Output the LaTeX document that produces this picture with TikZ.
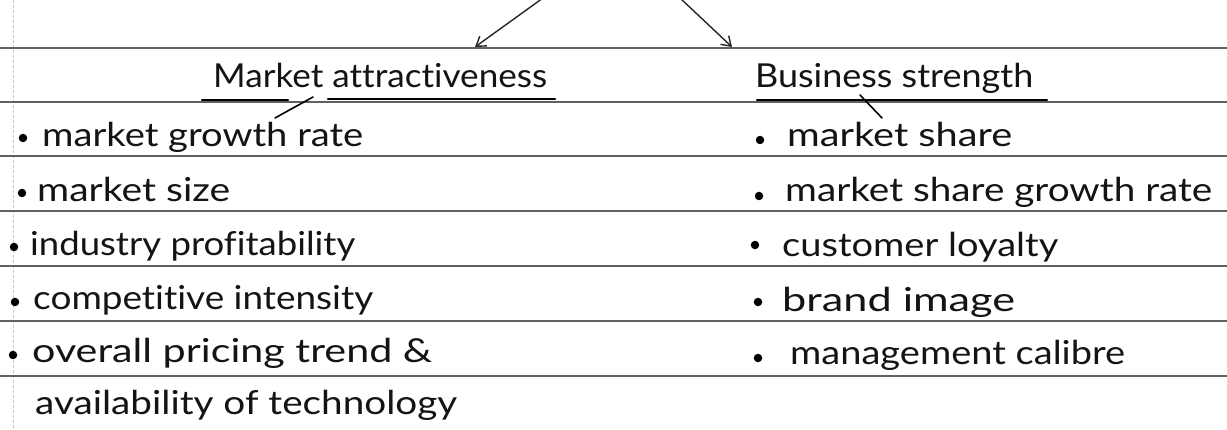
\documentclass[tikz,border=0pt]{standalone}
\usepackage{graphicx}
\usepackage{fontspec}
\setmainfont{Lato}[Ligatures=NoCommon]
\usetikzlibrary{arrows.meta}
\newcommand\fitw[2]{\resizebox{#1pt}{\height}{#2}}
\tikzset{
  rule/.style={draw=black!62, line width=1.3pt},
  marginline/.style={draw=black!22, line width=0.8pt, dash pattern=on 3pt off 2pt},
  hw/.style={inner sep=0pt, anchor=base west, font=\fontsize{33}{38}\selectfont, text=black!92},
  ul/.style={draw=black, line width=2.4pt, line cap=round},
  dot/.style={circle, fill=black, inner sep=0pt, minimum size=8.5pt},
  arr/.style={draw=black!85, line width=1.4pt, -{Straight Barb[length=9pt,width=12pt]}},
  tick/.style={draw=black, line width=1.6pt, line cap=round},
}
\begin{document}
\begin{tikzpicture}[x=1pt,y=-1pt]
\fill[white] (0,0) rectangle (1227,430);
\useasboundingbox (0,0) rectangle (1227,430);
% margin and ruled lines
\draw[marginline] (13,0) -- (13,430);
\foreach \y in {48,102,156,211,266,321,376} \draw[rule] (0,\y) -- (1227,\y);
% arrows from above
\coordinate (topL) at (543,-2);
\coordinate (tipL) at (475,47);
\coordinate (topR) at (680,-2);
\coordinate (tipR) at (732,47);
\draw[arr] (topL) -- (tipL);
\draw[arr] (topR) -- (tipR);
% headings
\node[hw] (hA) at (213,88) {\fitw{334}{Market attractiveness}};
\node[hw] (hB) at (755,88) {\fitw{278}{Business strength}};
\draw[ul] (202,100) -- (288,100);
\draw[ul] (328,99) -- (555,99);
\draw[ul] (757,100) -- (1047,100);
\coordinate (tkA1) at (313,97);
\coordinate (tkA2) at (275,118);
\coordinate (tkB1) at (860,95);
\coordinate (tkB2) at (882,118);
\draw[tick] (tkA1) -- (tkA2);
\draw[tick] (tkB1) -- (tkB2);
% left list
\node[dot] (dL1) at (23,138) {};
\node[hw] (L1) at (42,147) {\fitw{321}{market growth rate}};
\node[dot] (dL2) at (22,193) {};
\node[hw] (L2) at (37,202) {\fitw{193}{market size}};
\node[dot] (dL3) at (14,247) {};
\node[hw] (L3) at (30,256) {\fitw{325}{industry profitability}};
\node[dot] (dL4) at (15,302) {};
\node[hw] (L4) at (33,310) {\fitw{340}{competitive intensity}};
\node[dot] (dL5) at (13,355) {};
\node[hw] (L5) at (32,363) {\fitw{400}{overall pricing trend \&}};
\node[hw] (L6) at (35,415) {\fitw{422}{availability of technology}};
% right list
\node[dot] (dR1) at (760,140) {};
\node[hw] (R1) at (787,147) {\fitw{225}{market share}};
\node[dot] (dR2) at (759,196) {};
\node[hw] (R2) at (785,202) {\fitw{427}{market share growth rate}};
\node[dot] (dR3) at (755,245) {};
\node[hw] (R3) at (782,257) {\fitw{276}{customer loyalty}};
\node[dot] (dR4) at (758,302) {};
\node[hw] (R4) at (782,312) {\fitw{233}{brand image}};
\node[dot] (dR5) at (758,358) {};
\node[hw] (R5) at (790,365) {\fitw{335}{management calibre}};
\end{tikzpicture}
\end{document}
